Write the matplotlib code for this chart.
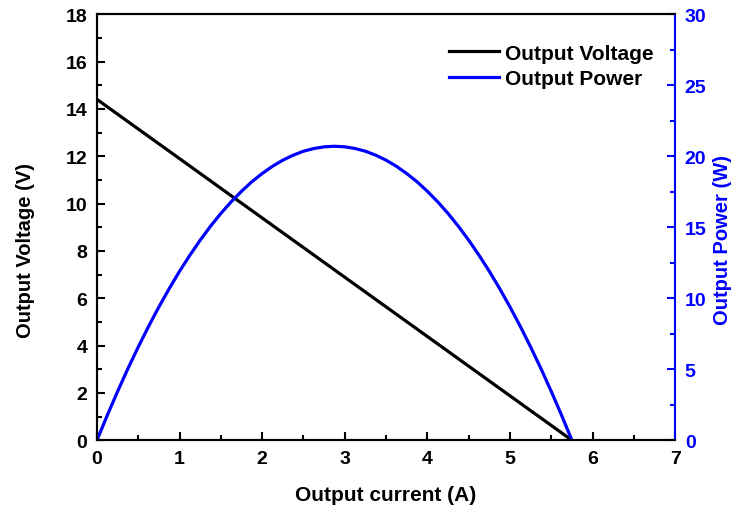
import matplotlib
matplotlib.use("Agg")
import matplotlib.pyplot as plt
from matplotlib.ticker import MultipleLocator

current = [0.000, 0.125, 0.250, 0.375, 0.500, 0.625, 0.750, 0.875, 1.000, 1.125,
           1.250, 1.375, 1.500, 1.625, 1.750, 1.875, 2.000, 2.125, 2.250, 2.375,
           2.500, 2.625, 2.750, 2.875, 3.000, 3.125, 3.250, 3.375, 3.500, 3.625,
           3.750, 3.875, 4.000, 4.125, 4.250, 4.375, 4.500, 4.625, 4.750, 4.875,
           5.000, 5.125, 5.250, 5.375, 5.500, 5.625, 5.750]
voltage = [14.400, 14.087, 13.774, 13.461, 13.148, 12.835, 12.522, 12.209, 11.896, 11.583,
           11.270, 10.957, 10.643, 10.330, 10.017, 9.704, 9.391, 9.078, 8.765, 8.452,
           8.139, 7.826, 7.513, 7.200, 6.887, 6.574, 6.261, 5.948, 5.635, 5.322,
           5.009, 4.696, 4.383, 4.070, 3.757, 3.443, 3.130, 2.817, 2.504, 2.191,
           1.878, 1.565, 1.252, 0.939, 0.626, 0.313, 0.000]
power = [0.00, 1.76, 3.44, 5.05, 6.57, 8.02, 9.39, 10.68, 11.90, 13.03,
         14.09, 15.07, 15.97, 16.79, 17.53, 18.20, 18.78, 19.29, 19.72, 20.07,
         20.35, 20.54, 20.66, 20.70, 20.66, 20.54, 20.35, 20.07, 19.72, 19.29,
         18.78, 18.20, 17.53, 16.79, 15.97, 15.07, 14.09, 13.03, 11.90, 10.68,
         9.39, 8.02, 6.57, 5.05, 3.44, 1.76, 0.00]

plt.rcParams['font.family'] = ['Liberation Sans', 'DejaVu Sans']
plt.rcParams['font.weight'] = 'bold'

fig = plt.figure(figsize=(7.46, 5.06), dpi=100)
ax = fig.add_axes([0.130, 0.128, 0.775, 0.842])
ax2 = ax.twinx()

blue = '#0000FF'
l1, = ax.plot(current, voltage, color='black', lw=2.3, label='Output Voltage')
l2, = ax2.plot(current, power, color=blue, lw=2.3, label='Output Power')

ax.set_xlim(0, 7)
ax.set_ylim(0, 18)
ax2.set_ylim(0, 30)
ax.xaxis.set_major_locator(MultipleLocator(1))
ax.xaxis.set_minor_locator(MultipleLocator(0.5))
ax.yaxis.set_major_locator(MultipleLocator(2))
ax.yaxis.set_minor_locator(MultipleLocator(1))
ax2.yaxis.set_major_locator(MultipleLocator(5))
ax2.yaxis.set_minor_locator(MultipleLocator(2.5))

for a in (ax, ax2):
    for s in a.spines.values():
        s.set_linewidth(1.5)
ax2.spines['right'].set_color(blue)
ax.spines['right'].set_visible(False)

ax.tick_params(axis='both', which='major', direction='in', length=6, width=1.5,
               labelsize=14, pad=7)
ax.tick_params(axis='both', which='minor', direction='in', length=3.5, width=1.5)
ax.tick_params(axis='y', which='both', right=False)
ax.tick_params(axis='x', which='both', top=False)
ax2.tick_params(axis='y', which='major', direction='in', length=6, width=1.5,
                labelsize=14, colors=blue, pad=7)
ax2.tick_params(axis='y', which='minor', direction='in', length=3.5, width=1.5, colors=blue)

for lab in ax.get_xticklabels() + ax.get_yticklabels() + ax2.get_yticklabels():
    lab.set_fontweight('bold')

ax.set_xlabel('Output current (A)', fontsize=15, fontweight='bold', labelpad=13)
ax.set_ylabel('Output Voltage (V)', fontsize=14.5, fontweight='bold')
ax2.set_ylabel('Output Power (W)', fontsize=14.5, fontweight='bold', color=blue)
ax.yaxis.set_label_coords(-0.107, 0.448)
ax2.yaxis.set_label_coords(1.066, 0.472)

leg = ax.legend(handles=[l1, l2], loc='upper right', frameon=False,
                prop={'size': 15, 'weight': 'bold'}, handlelength=2.4,
                handletextpad=0.3, labelspacing=0.3,
                bbox_to_anchor=(0.995, 0.975))

fig.savefig('out.png', dpi=100)
